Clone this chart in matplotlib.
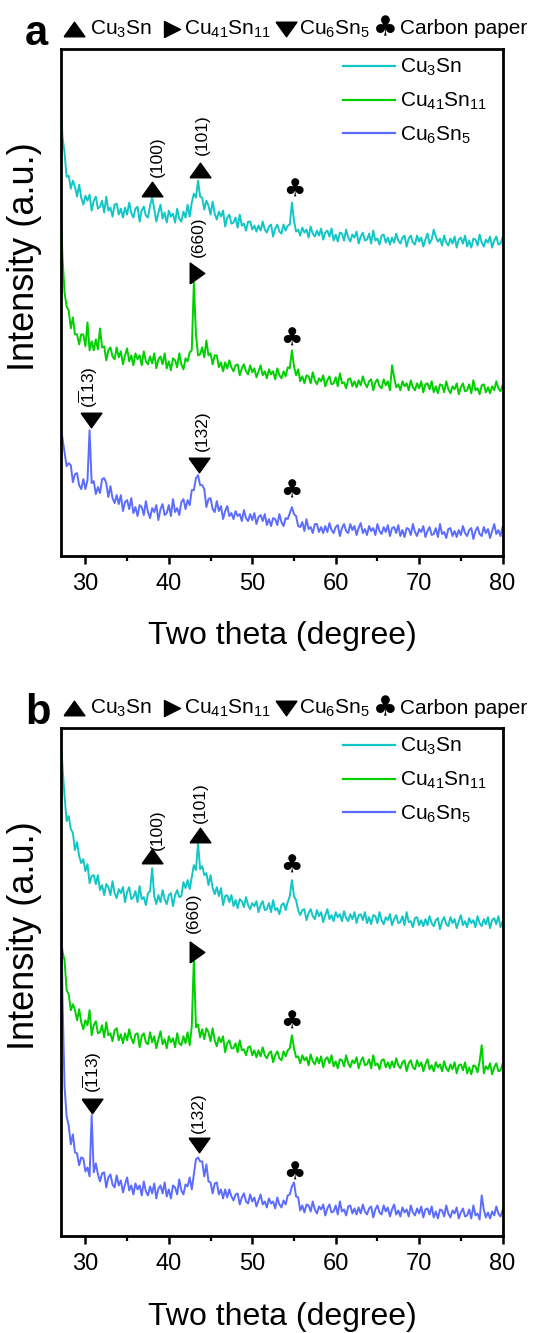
import numpy as np
import matplotlib
matplotlib.use("Agg")
import matplotlib.pyplot as plt
from matplotlib.lines import Line2D
from matplotlib.ticker import MultipleLocator

plt.rcParams["font.family"] = ["Liberation Sans", "DejaVu Sans"]
plt.rcParams["mathtext.default"] = "regular"

# 2-theta grid, 0.25 deg steps
two_theta = np.arange(27.0, 80.001, 0.25)

# ---- panel a intensities (a.u., offset stacked) ----
cu3sn_a = [
    466, 420, 404, 380, 381, 368, 376, 370, 360, 372, 359, 352, 361, 356, 362, 346,
    356, 360, 348, 350, 356, 344, 360, 346, 349, 340, 352, 353, 342, 348, 339, 349,
    342, 354, 344, 339, 348, 350, 335, 346, 350, 341, 339, 351, 359, 348, 335, 344,
    352, 338, 344, 334, 346, 340, 343, 334, 348, 338, 335, 345, 339, 352, 340, 354,
    363, 359, 376, 360, 359, 347, 356, 351, 342, 355, 343, 337, 345, 340, 346, 330,
    339, 342, 333, 334, 339, 329, 342, 331, 333, 326, 335, 335, 327, 331, 325, 331,
    326, 335, 327, 324, 330, 332, 320, 328, 332, 325, 323, 332, 326, 331, 332, 354,
    336, 325, 327, 321, 329, 324, 327, 319, 330, 323, 320, 326, 321, 328, 317, 324,
    326, 320, 328, 316, 322, 315, 324, 323, 316, 327, 319, 315, 322, 319, 325, 313,
    320, 324, 316, 317, 323, 313, 326, 316, 318, 312, 321, 322, 314, 319, 312, 319,
    314, 323, 316, 313, 319, 321, 310, 318, 321, 314, 312, 321, 315, 319, 310, 317,
    323, 313, 317, 327, 320, 315, 318, 311, 321, 314, 311, 318, 313, 320, 309, 317,
    319, 313, 321, 310, 316, 309, 318, 317, 311, 322, 314, 310, 317, 314, 320, 309,
    316, 320, 312, 313, 319,
]
cu41sn11_a = [
    363, 300, 264, 250, 246, 228, 239, 222, 222, 212, 222, 222, 210, 234, 206, 215,
    206, 217, 207, 228, 209, 210, 196, 206, 209, 200, 197, 209, 199, 205, 192, 201,
    208, 195, 201, 191, 203, 197, 201, 191, 205, 195, 192, 200, 193, 203, 188, 197,
    200, 192, 203, 188, 195, 186, 198, 196, 189, 203, 192, 187, 198, 195, 204, 206,
    274, 222, 201, 202, 209, 199, 216, 201, 203, 192, 201, 201, 189, 194, 185, 194,
    188, 196, 189, 185, 191, 192, 181, 188, 192, 185, 182, 191, 184, 188, 179, 185,
    191, 181, 185, 178, 187, 182, 185, 177, 188, 181, 178, 185, 180, 189, 188, 206,
    190, 181, 187, 175, 180, 173, 181, 180, 173, 184, 176, 172, 178, 175, 181, 170,
    176, 180, 172, 173, 179, 170, 183, 173, 174, 168, 177, 178, 170, 175, 169, 176,
    171, 180, 173, 169, 175, 177, 166, 174, 177, 170, 168, 177, 171, 175, 166, 191,
    179, 169, 172, 166, 175, 170, 173, 166, 176, 169, 166, 173, 168, 175, 164, 172,
    173, 167, 175, 164, 170, 163, 172, 171, 164, 175, 167, 163, 170, 167, 173, 162,
    169, 173, 165, 166, 172, 163, 176, 166, 168, 162, 171, 172, 164, 169, 163, 170,
    166, 175, 168, 165, 171,
]
cu6sn5_a = [
    133, 118, 104, 90, 93, 91, 74, 82, 83, 71, 67, 77, 67, 76, 126, 73,
    75, 62, 69, 63, 77, 78, 73, 59, 70, 58, 53, 61, 52, 61, 45, 54,
    56, 47, 58, 43, 49, 40, 51, 49, 41, 55, 44, 38, 48, 44, 51, 36,
    47, 52, 41, 43, 51, 40, 57, 44, 48, 41, 54, 57, 47, 56, 51, 66,
    66, 78, 81, 71, 71, 67, 49, 57, 58, 47, 44, 55, 45, 50, 37, 45,
    50, 40, 43, 37, 45, 40, 42, 35, 46, 38, 35, 42, 36, 43, 32, 39,
    41, 35, 42, 31, 37, 30, 38, 37, 31, 42, 34, 30, 38, 37, 43, 49,
    42, 40, 30, 29, 34, 25, 37, 27, 29, 23, 32, 32, 24, 29, 23, 30,
    24, 33, 26, 23, 29, 31, 20, 28, 32, 25, 23, 32, 26, 30, 21, 28,
    33, 23, 27, 21, 30, 25, 28, 21, 32, 25, 22, 29, 24, 31, 20, 28,
    29, 23, 31, 20, 26, 19, 28, 27, 21, 32, 24, 20, 27, 24, 30, 19,
    25, 29, 21, 22, 28, 19, 32, 22, 24, 18, 27, 28, 20, 25, 19, 26,
    21, 30, 23, 20, 26, 28, 17, 25, 29, 22, 20, 29, 23, 27, 18, 25,
    32, 22, 26, 20, 29,
]

# ---- panel b intensities ----
cu3sn_b = [
    508, 470, 440, 415, 420, 407, 403, 386, 394, 380, 373, 377, 365, 372, 353, 360,
    361, 352, 361, 346, 351, 341, 352, 349, 341, 355, 343, 338, 347, 343, 349, 334,
    344, 349, 337, 339, 345, 334, 350, 337, 339, 331, 343, 345, 368, 340, 332, 341,
    334, 346, 337, 332, 341, 343, 330, 341, 346, 339, 340, 354, 348, 356, 347, 359,
    371, 366, 393, 367, 370, 361, 363, 351, 361, 348, 342, 349, 340, 348, 331, 340,
    341, 334, 341, 330, 336, 328, 337, 335, 329, 339, 331, 327, 333, 330, 335, 324,
    331, 335, 326, 327, 333, 324, 336, 326, 328, 322, 331, 333, 326, 334, 340, 356,
    340, 336, 326, 321, 326, 327, 316, 323, 327, 320, 317, 326, 320, 324, 314, 321,
    327, 317, 321, 315, 324, 319, 322, 315, 325, 318, 315, 322, 317, 324, 313, 321,
    322, 316, 324, 313, 319, 312, 321, 320, 313, 324, 316, 312, 319, 316, 322, 311,
    317, 321, 313, 314, 320, 311, 324, 314, 315, 309, 318, 319, 311, 316, 310, 317,
    311, 320, 313, 310, 316, 318, 307, 315, 319, 312, 310, 319, 313, 317, 308, 315,
    321, 311, 315, 309, 318, 313, 316, 309, 320, 313, 310, 317, 312, 319, 308, 316,
    318, 312, 320, 309, 315,
]
cu41sn11_b = [
    306, 285, 276, 246, 242, 226, 232, 226, 216, 227, 214, 207, 216, 211, 226, 201,
    211, 215, 203, 204, 211, 199, 214, 201, 203, 195, 206, 208, 196, 202, 193, 203,
    196, 207, 198, 193, 202, 203, 189, 200, 203, 194, 192, 204, 194, 200, 188, 197,
    205, 192, 197, 188, 200, 194, 198, 189, 203, 193, 191, 200, 193, 204, 191, 210,
    278, 209, 212, 199, 207, 197, 208, 204, 195, 208, 196, 190, 199, 194, 200, 184,
    193, 196, 188, 188, 193, 184, 196, 186, 187, 181, 189, 190, 181, 186, 179, 186,
    180, 189, 181, 178, 183, 185, 174, 181, 185, 178, 176, 185, 180, 186, 188, 201,
    188, 179, 180, 173, 181, 176, 179, 171, 182, 175, 172, 179, 173, 180, 169, 177,
    179, 173, 181, 170, 175, 168, 177, 176, 170, 181, 173, 169, 176, 173, 179, 168,
    175, 179, 171, 172, 177, 168, 181, 171, 173, 167, 176, 177, 169, 174, 168, 175,
    169, 178, 171, 168, 174, 176, 165, 173, 176, 169, 167, 176, 170, 174, 165, 172,
    177, 167, 171, 165, 174, 169, 172, 165, 175, 168, 165, 172, 167, 174, 163, 171,
    172, 166, 174, 163, 169, 162, 171, 170, 164, 175, 191, 163, 170, 167, 173, 162,
    169, 173, 165, 166, 172,
]
cu6sn5_b = [
    426, 240, 150, 120, 111, 92, 102, 84, 83, 71, 79, 78, 65, 69, 60, 121,
    64, 73, 62, 55, 63, 64, 49, 59, 62, 52, 49, 61, 51, 56, 44, 52,
    59, 46, 51, 42, 53, 47, 51, 41, 55, 45, 41, 50, 43, 53, 38, 48,
    51, 43, 54, 40, 47, 38, 51, 49, 42, 57, 46, 42, 52, 50, 59, 47,
    62, 77, 79, 75, 75, 60, 72, 55, 54, 43, 53, 54, 42, 47, 38, 47,
    39, 47, 40, 36, 42, 43, 32, 39, 43, 35, 33, 42, 35, 39, 30, 36,
    42, 32, 35, 29, 38, 33, 35, 28, 39, 32, 29, 36, 32, 41, 42, 50,
    54, 40, 39, 26, 31, 24, 32, 31, 25, 35, 27, 23, 30, 27, 32, 21,
    28, 32, 24, 25, 31, 22, 35, 25, 27, 21, 30, 31, 23, 28, 22, 29,
    23, 32, 25, 22, 28, 30, 19, 27, 31, 24, 22, 31, 25, 29, 20, 27,
    32, 22, 26, 20, 29, 24, 27, 20, 31, 24, 21, 28, 23, 30, 19, 27,
    28, 22, 30, 19, 25, 18, 27, 26, 20, 31, 23, 19, 26, 23, 29, 18,
    24, 28, 20, 21, 27, 18, 31, 21, 23, 17, 41, 27, 19, 24, 18, 25,
    21, 30, 23, 20, 26,
]

labels = ["Cu$_3$Sn", "Cu$_{41}$Sn$_{11}$", "Cu$_6$Sn$_5$"]
colors = ["#13C6C6", "#00CF00", "#5B6CFF"]

# triangle marker shapes
UP = [(-1, -0.7), (1, -0.7), (0, 0.7), (-1, -0.7)]
DOWN = [(-1, 0.7), (1, 0.7), (0, -0.7), (-1, 0.7)]
RIGHT = [(-0.7, -1), (-0.7, 1), (0.7, 0), (-0.7, -1)]

# (marker, x, y, label, label_x, label_y); marker None -> club
peaks_a = [
    (UP, 38.0, 368, "(100)", 38.6, 400),
    (UP, 43.7, 387, "(101)", 44.0, 422),
    (None, 55.0, 367, "", 0, 0),
    (RIGHT, 43.35, 284, "(660)", 43.5, 320),
    (None, 54.65, 218, "", 0, 0),
    (DOWN, 30.65, 136, r"($\overline{1}$13)", 30.4, 169),
    (DOWN, 43.6, 91, "(132)", 44.0, 126),
    (None, 54.65, 65, "", 0, 0),
]
peaks_b = [
    (UP, 38.0, 380, "(100)", 38.6, 406),
    (UP, 43.7, 401, "(101)", 43.75, 433),
    (None, 54.65, 370, "", 0, 0),
    (RIGHT, 43.4, 284, "(660)", 43.0, 323),
    (None, 54.65, 215, "", 0, 0),
    (DOWN, 30.8, 130, r"($\overline{1}$13)", 30.8, 164),
    (DOWN, 43.6, 91, "(132)", 43.6, 124),
    (None, 55.0, 64, "", 0, 0),
]

fig = plt.figure(figsize=(5.36, 13.33), dpi=100)
ax_a = fig.add_axes([0.1134, 0.5829, 0.8250, 0.3804])
ax_b = fig.add_axes([0.1134, 0.0724, 0.8250, 0.3815])


def draw_panel(ax, series, peaks):
    for y, c, lab in zip(series, colors, labels):
        ax.plot(two_theta, y, color=c, lw=1.4, label=lab)
    for m, x, y, text, tx, ty in peaks:
        if m is None:
            ax.text(x, y, "\u2663", family="DejaVu Sans", fontsize=18,
                    ha="center", va="center")
        else:
            ax.plot([x], [y], marker=m, ms=15, color="k", ls="none")
            ax.text(tx, ty, text, rotation=90, fontsize=12.5,
                    ha="center", va="center")
    ax.set_xlim(27.05, 80.05)
    ax.set_ylim(0, 508)
    ax.set_yticks([])
    ax.xaxis.set_major_locator(MultipleLocator(10))
    ax.xaxis.set_minor_locator(MultipleLocator(5))
    ax.tick_params(axis="x", which="major", direction="out", length=6,
                   width=1.8, labelsize=17, pad=6)
    ax.tick_params(axis="x", which="minor", direction="out", length=3.5,
                   width=1.6)
    for s in ax.spines.values():
        s.set_linewidth(2)
    ax.set_xlabel("Two theta (degree)", fontsize=23)
    ax.xaxis.set_label_coords(0.5, -0.128)
    ax.set_ylabel("Intensity (a.u.)", fontsize=26)
    ax.yaxis.set_label_coords(-0.0425, 0.591)
    handles = [Line2D([], [], color=c, lw=1.6) for c in colors]
    ax.legend(handles, labels, loc="upper left", bbox_to_anchor=(0.638, 0.984),
              frameon=False, fontsize=15, handlelength=2.5, handletextpad=0.25,
              labelspacing=0.6, borderpad=0, borderaxespad=0)


def draw_header(letter, top):
    # top: pixel offset of the panel
    H = 1333.0
    W = 536.0

    def fx(px):
        return px / W

    def fy(py):
        return 1 - (py + top) / H

    fig.text(fx(25), fy(45), letter, fontsize=30, fontweight="bold",
             ha="left", va="baseline")
    hdr_up = [(-1, -0.7), (1, -0.7), (0, 0.7), (-1, -0.7)]
    hdr_right = [(-1, -1), (-1, 1), (1, 0), (-1, -1)]
    hdr_down = [(-1, 0.7), (1, 0.7), (0, -0.7), (-1, 0.7)]
    for m, px, ms in [(hdr_up, 73.5, 15), (hdr_right, 171.5, 11.5),
                      (hdr_down, 286, 15)]:
        fig.add_artist(Line2D([fx(px)], [fy(28.5)], marker=m, ms=ms, color="k",
                              ls="none", transform=fig.transFigure))
    fig.text(fx(385), fy(28.5), "\u2663", family="DejaVu Sans", fontsize=20,
             ha="center", va="center")
    for px, t in [(90.5, labels[0]), (184.5, labels[1]), (299, labels[2]),
                  (400, "Carbon paper")]:
        fig.text(fx(px), fy(34.2), t, fontsize=15, ha="left", va="baseline")


draw_panel(ax_a, [cu3sn_a, cu41sn11_a, cu6sn5_a], peaks_a)
draw_panel(ax_b, [cu3sn_b, cu41sn11_b, cu6sn5_b], peaks_b)
draw_header("a", 0)
draw_header("b", 679.5)

fig.savefig("out.png", dpi=100)
